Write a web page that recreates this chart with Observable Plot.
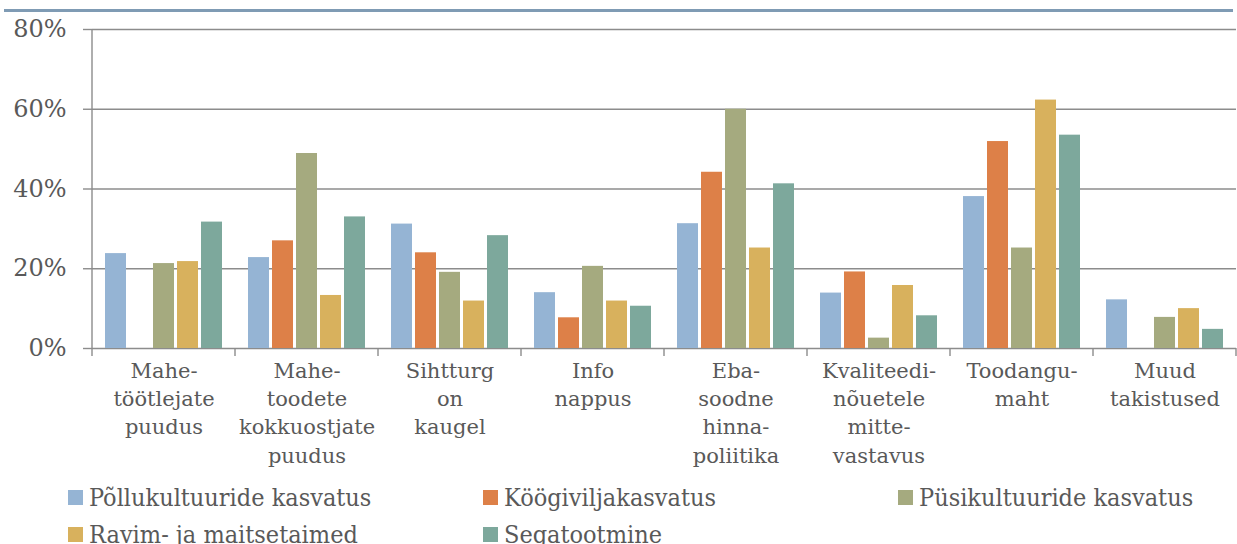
<!DOCTYPE html>
<html><head><meta charset="utf-8">
<script src="https://cdn.jsdelivr.net/npm/d3@7"></script>
<script src="https://cdn.jsdelivr.net/npm/@observablehq/plot@0.6"></script>
<style>
body{margin:0;background:#fff;width:1237px;height:544px;overflow:hidden;position:relative;font-family:"DejaVu Serif",serif;color:#595959}
#topline{position:absolute;left:4px;top:9px;width:1229px;height:3px;background:#7f9bb4}
#chart{position:absolute;left:0;top:0}
#legend{position:absolute;left:68px;top:479px;display:grid;grid-template-columns:415px 415px 415px;grid-auto-rows:36.7px;font-size:25px;font-family:"DejaVu Serif Condensed","DejaVu Serif",serif;font-stretch:condensed}
.item{display:flex;align-items:center;white-space:nowrap}
.sw{width:15px;height:15px;margin-right:6px;flex:none}
</style></head><body>
<div id="topline"></div><div id="chart"></div><div id="legend"></div>
<script>
const categories = [
  "Mahe-\ntöötlejate\npuudus",
  "Mahe-\ntoodete\nkokkuostjate\npuudus",
  "Sihtturg\non\nkaugel",
  "Info\nnappus",
  "Eba-\nsoodne\nhinna-\npoliitika",
  "Kvaliteedi-\nnõuetele\nmitte-\nvastavus",
  "Toodangu-\nmaht",
  "Muud\ntakistused"
];
const seriesNames = [
  "Põllukultuuride kasvatus",
  "Köögiviljakasvatus",
  "Püsikultuuride kasvatus",
  "Ravim- ja maitsetaimed",
  "Segatootmine"
];
const colors = ["#95b4d4", "#dd8048", "#a5aa7f", "#d8b15d", "#7da89c"];
const pollukultuurid = [23.8, 22.8, 31.2, 14.0, 31.3, 13.9, 38.1, 12.2];
const koogiviljad    = [null, 27.0, 24.0, 7.7, 44.2, 19.2, 51.9, null];
const pusikultuurid  = [21.3, 48.9, 19.1, 20.6, 60.0, 2.6, 25.2, 7.8];
const ravimtaimed    = [21.8, 13.3, 11.9, 11.9, 25.2, 15.8, 62.3, 10.0];
const segatootmine   = [31.7, 33.0, 28.3, 10.6, 41.3, 8.2, 53.5, 4.8];
const yTicks = [0, 20, 40, 60, 80];

const seriesValues = [pollukultuurid, koogiviljad, pusikultuurid, ravimtaimed, segatootmine];
const data = [];
categories.forEach((c, i) => seriesNames.forEach((s, j) => {
  const v = seriesValues[j][i];
  if (v != null) data.push({category: c, series: s, value: v});
}));

const gridColor = "#8c8c8c";
const chart = Plot.plot({
  width: 1237, height: 476,
  marginTop: 29, marginBottom: 128, marginLeft: 91, marginRight: 0,
  style: {fontFamily: '"DejaVu Serif", serif', color: "#595959", background: "transparent"},
  fx: {domain: categories, paddingInner: 0, paddingOuter: 0, label: null},
  x: {domain: seriesNames, paddingInner: 0.11, paddingOuter: 0.46, axis: null},
  y: {domain: [0, 80], label: null},
  color: {domain: seriesNames, range: colors},
  marks: [
    Plot.gridY(yTicks, {stroke: gridColor, strokeOpacity: 1, strokeWidth: 1.4}),
    Plot.barY(data, {fx: "category", x: "series", y: "value", fill: "series"}),
    Plot.axisY(yTicks, {tickFormat: d => d + "%", tickSize: 9, tickPadding: 17, fontSize: 24, stroke: gridColor, strokeWidth: 1.4, fill: "#595959", label: null}),
    Plot.axisFx({anchor: "bottom", tickSize: 0, tickPadding: 9, fontSize: 21, lineHeight: 1.35, fill: "#595959", label: null})
  ]
});
document.getElementById("chart").appendChild(chart);

// axis line and category boundary ticks from the library's scales
const fx = chart.scale("fx"), y = chart.scale("y");
const svg = d3.select(chart);
const y0 = y.apply(0), yTop = y.apply(80);
const bw = fx.bandwidth;
const bounds = categories.map(c => fx.apply(c));
bounds.push(fx.apply(categories[categories.length - 1]) + bw);
svg.append("line").attr("x1", bounds[0]).attr("x2", bounds[0]).attr("y1", yTop).attr("y2", y0)
  .attr("stroke", gridColor).attr("stroke-width", 1.4);
svg.selectAll("line.cattick").data(bounds).join("line").attr("class", "cattick")
  .attr("x1", d => d).attr("x2", d => d).attr("y1", y0).attr("y2", y0 + 8)
  .attr("stroke", gridColor).attr("stroke-width", 1.4);

const legend = d3.select("#legend");
seriesNames.forEach((s, i) => {
  const it = legend.append("div").attr("class", "item");
  it.append("div").attr("class", "sw").style("background", colors[i]);
  it.append("span").text(s);
});
</script>
</body></html>
